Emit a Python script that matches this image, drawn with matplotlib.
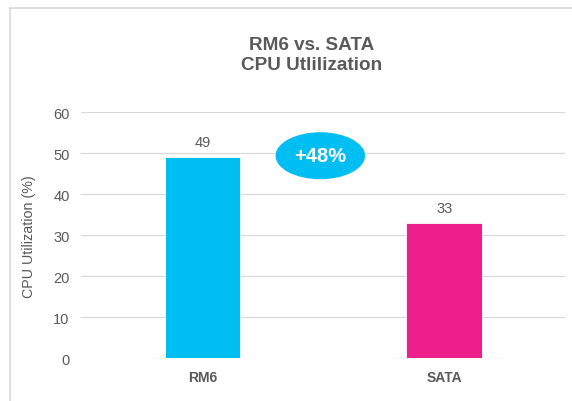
import matplotlib
matplotlib.use("Agg")
import matplotlib.pyplot as plt
from matplotlib.patches import Ellipse
from matplotlib.lines import Line2D

categories = ["RM6", "SATA"]
values = [49, 33]
bar_colors = ["#00BEF2", "#EC1F8C"]
yticks = [0, 10, 20, 30, 40, 50, 60]
title = "RM6 vs. SATA\nCPU Utlilization"
ylabel = "CPU Utilization (%)"
callout = "+48%"

plt.rcParams['font.family'] = ['Liberation Sans', 'DejaVu Sans']
grey = "#595959"

fig = plt.figure(figsize=(5.72, 4.02), dpi=100)
ax = fig.add_axes([0.1423, 0.1062, 0.8455, 0.612])

x = list(range(len(categories)))
ax.bar(x, values, width=0.312, color=bar_colors, edgecolor="white", linewidth=0.6, zorder=3)
ax.set_xlim(-0.5, len(categories) - 0.5)
ax.set_ylim(0, 60)
ax.set_yticks(yticks)
ax.set_xticks(x)
ax.set_xticklabels(categories, fontweight="bold", fontsize=10, color=grey)
ax.tick_params(axis="y", length=0, pad=8.5, labelsize=10.5, labelcolor=grey)
ax.tick_params(axis="x", length=0, pad=8.5)
for s in ax.spines.values():
    s.set_visible(False)
ax.yaxis.grid(True, color="#D9D9D9", linewidth=0.9, zorder=0)
ax.set_axisbelow(True)

for xi, v in zip(x, values):
    ax.annotate(str(v), (xi, v), xytext=(0, 11), textcoords="offset points",
                ha="center", va="center", fontsize=10.5, color=grey)

ax.set_ylabel(ylabel, fontsize=10.3, color=grey)
ax.yaxis.set_label_coords(-0.094, 0.5)

ell = Ellipse((0.488, 49.4), 0.37, 11.46, facecolor="#00BEF2", edgecolor="none",
              zorder=4, clip_on=False)
ax.add_patch(ell)
ax.text(0.488, 49.4, callout, ha="center", va="center", color="white",
        fontsize=14.5, fontweight="bold", zorder=5)

fig.text(0.544, 0.862, title, ha="center", va="center", fontsize=13.6,
         fontweight="bold", color=grey, linespacing=1.3)

fig.add_artist(Line2D([0.0175, 0.0175], [0.0, 0.9776], color="#D9D9D9", linewidth=1.2,
                      transform=fig.transFigure))
fig.add_artist(Line2D([0.0175, 1.0], [0.9776, 0.9776], color="#D9D9D9", linewidth=1.2,
                      transform=fig.transFigure))

fig.savefig("out.png", dpi=100)
